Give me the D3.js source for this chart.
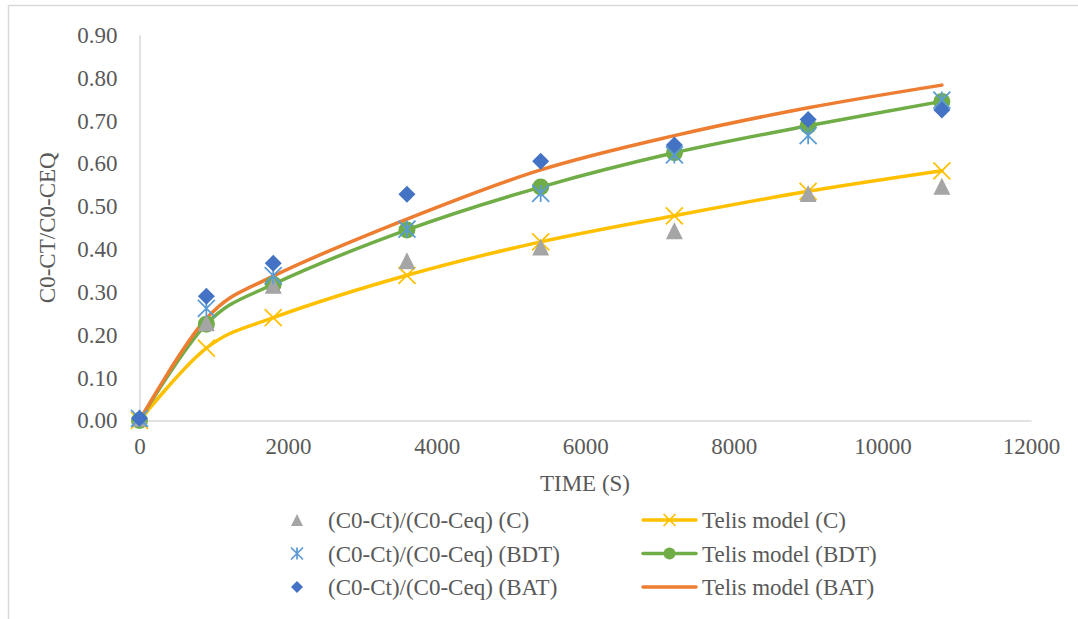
<!DOCTYPE html>
<html>
<head>
<meta charset="utf-8">
<script src="https://cdn.jsdelivr.net/npm/d3@7"></script>
<style>
  body { margin: 0; background: #fff; }
  text { font-family: "Liberation Serif", "Times New Roman", serif; fill: #595959; }
</style>
</head>
<body>
<div id="chart"></div>
<script>
// time points (s)
var times = [0, 900, 1800, 3600, 5400, 7200, 9000, 10800];

// measured (C0-Ct)/(C0-Ceq)
var obsC   = [0.005, 0.228, 0.316, 0.373, 0.405, 0.443, 0.530, 0.547];
var obsBDT = [0.005, 0.262, 0.338, 0.447, 0.530, 0.620, 0.665, 0.748];
var obsBAT = [0.005, 0.290, 0.367, 0.528, 0.605, 0.643, 0.703, 0.725];

// Telis model
var telisC   = [0, 0.169, 0.240, 0.339, 0.417, 0.478, 0.535, 0.583];
var telisBDT = [0, 0.225, 0.318, 0.445, 0.545, 0.625, 0.688, 0.745];
var telisBAT = [0, 0.238, 0.337, 0.470, 0.585, 0.665, 0.730, 0.783];

var xTicks = [0, 2000, 4000, 6000, 8000, 10000, 12000];
var yTicks = [0, 0.1, 0.2, 0.3, 0.4, 0.5, 0.6, 0.7, 0.8, 0.9];

var W = 1078, H = 619;
var plotL = 139.5, plotR = 1031, plotT = 35, plotB = 420.5;
var fontSize = "23px";

var svg = d3.select("#chart").append("svg")
  .attr("width", W)
  .attr("height", H);

// chart border
svg.append("rect")
  .attr("x", 8.5).attr("y", 5.5)
  .attr("width", 1200).attr("height", 800)
  .attr("fill", "none")
  .attr("stroke", "#d9d9d9")
  .attr("stroke-width", 1.5);

var x = d3.scaleLinear().domain([0, 12000]).range([plotL, plotR]);
var y = d3.scaleLinear().domain([0, 0.9]).range([plotB, plotT]);

// axes
var xAxis = svg.append("g")
  .attr("transform", "translate(0," + plotB + ")")
  .call(d3.axisBottom(x).tickValues(xTicks).tickSize(0).tickPadding(17).tickFormat(d3.format("d")));
var yAxis = svg.append("g")
  .attr("transform", "translate(" + plotL + ",0)")
  .call(d3.axisLeft(y).tickValues(yTicks).tickSize(0).tickPadding(22).tickFormat(d3.format(".2f")));

[xAxis, yAxis].forEach(function (g) {
  g.select(".domain").attr("stroke", "#d9d9d9").attr("stroke-width", 1.5);
  g.selectAll("text")
    .style("font-family", '"Liberation Serif", serif')
    .style("font-size", fontSize)
    .attr("fill", "#595959");
});

svg.append("text")
  .attr("x", 585)
  .attr("y", 491)
  .attr("text-anchor", "middle")
  .style("font-size", fontSize)
  .text("TIME (S)");

svg.append("text")
  .attr("transform", "translate(55," + (plotT + plotB) / 2 + ") rotate(-90)")
  .attr("text-anchor", "middle")
  .style("font-size", fontSize)
  .text("C0-CT/C0-CEQ");

// marker shapes
function triPath(s) {
  return "M0," + (-s / 2) + "L" + (s / 2) + "," + (s / 2) + "L" + (-s / 2) + "," + (s / 2) + "Z";
}
function diamondPath(s) {
  var h = s / 2;
  return "M0," + (-h) + "L" + h + ",0L0," + h + "L" + (-h) + ",0Z";
}
function xPath(s) {
  var h = s / 2;
  return "M" + (-h) + "," + (-h) + "L" + h + "," + h + "M" + h + "," + (-h) + "L" + (-h) + "," + h;
}
function starPath(s) {
  var h = s / 2;
  return xPath(s) + "M0," + (-h) + "L0," + h;
}

var series = [
  { name: "(C0-Ct)/(C0-Ceq) (C)",   values: obsC,     line: false, marker: "tri",     color: "#a5a5a5" },
  { name: "Telis model (C)",        values: telisC,   line: true,  marker: "x",       color: "#ffc000" },
  { name: "(C0-Ct)/(C0-Ceq) (BDT)", values: obsBDT,   line: false, marker: "star",    color: "#5b9bd5" },
  { name: "Telis model (BDT)",      values: telisBDT, line: true,  marker: "circle",  color: "#70ad47" },
  { name: "(C0-Ct)/(C0-Ceq) (BAT)", values: obsBAT,   line: false, marker: "diamond", color: "#4472c4" },
  { name: "Telis model (BAT)",      values: telisBAT, line: true,  marker: null,      color: "#ed7d31" }
];

function drawMarker(g, type, color, s) {
  if (type === "tri") {
    g.append("path").attr("d", triPath(s)).attr("fill", color);
  } else if (type === "diamond") {
    g.append("path").attr("d", diamondPath(s)).attr("fill", color);
  } else if (type === "circle") {
    g.append("circle").attr("r", s / 2).attr("fill", color);
  } else if (type === "x") {
    g.append("path").attr("d", xPath(s)).attr("fill", "none").attr("stroke", color).attr("stroke-width", 1.75);
  } else if (type === "star") {
    g.append("path").attr("d", starPath(s)).attr("fill", "none").attr("stroke", color).attr("stroke-width", 1.75);
  }
}

var line = d3.line()
  .x(function (d, i) { return x(times[i]); })
  .y(function (d) { return y(d); })
  .curve(d3.curveCatmullRom.alpha(0));

// lines first
series.filter(function (s) { return s.line; }).forEach(function (s) {
  svg.append("path")
    .datum(s.values)
    .attr("d", line)
    .attr("fill", "none")
    .attr("stroke", s.color)
    .attr("stroke-width", 3.5)
    .attr("stroke-linecap", "round");
});

// model markers, then measured markers on top
var markerOrder = [1, 3, 0, 2, 4];
markerOrder.forEach(function (k) {
  var s = series[k];
  if (!s.marker) return;
  s.values.forEach(function (v, i) {
    var g = svg.append("g").attr("transform", "translate(" + x(times[i]) + "," + y(v) + ")");
    drawMarker(g, s.marker, s.color, 17);
  });
});

// legend
var rowY = [520, 553.5, 587];
var legendItems = [
  { s: series[0], col: 0, row: 0 },
  { s: series[1], col: 1, row: 0 },
  { s: series[2], col: 0, row: 1 },
  { s: series[3], col: 1, row: 1 },
  { s: series[4], col: 0, row: 2 },
  { s: series[5], col: 1, row: 2 }
];
legendItems.forEach(function (it) {
  var cy = rowY[it.row];
  var g = svg.append("g");
  if (it.col === 0) {
    var m = g.append("g").attr("transform", "translate(297," + cy + ")");
    drawMarker(m, it.s.marker, it.s.color, 12);
    g.append("text").attr("x", 328).attr("y", cy).attr("dy", "0.35em")
      .style("font-size", fontSize).text(it.s.name);
  } else {
    g.append("line").attr("x1", 643).attr("x2", 696).attr("y1", cy).attr("y2", cy)
      .attr("stroke", it.s.color).attr("stroke-width", 3.5).attr("stroke-linecap", "round");
    if (it.s.marker) {
      var m2 = g.append("g").attr("transform", "translate(669.5," + cy + ")");
      drawMarker(m2, it.s.marker, it.s.color, 12);
    }
    g.append("text").attr("x", 702).attr("y", cy).attr("dy", "0.35em")
      .style("font-size", fontSize).text(it.s.name);
  }
});
</script>
</body>
</html>
